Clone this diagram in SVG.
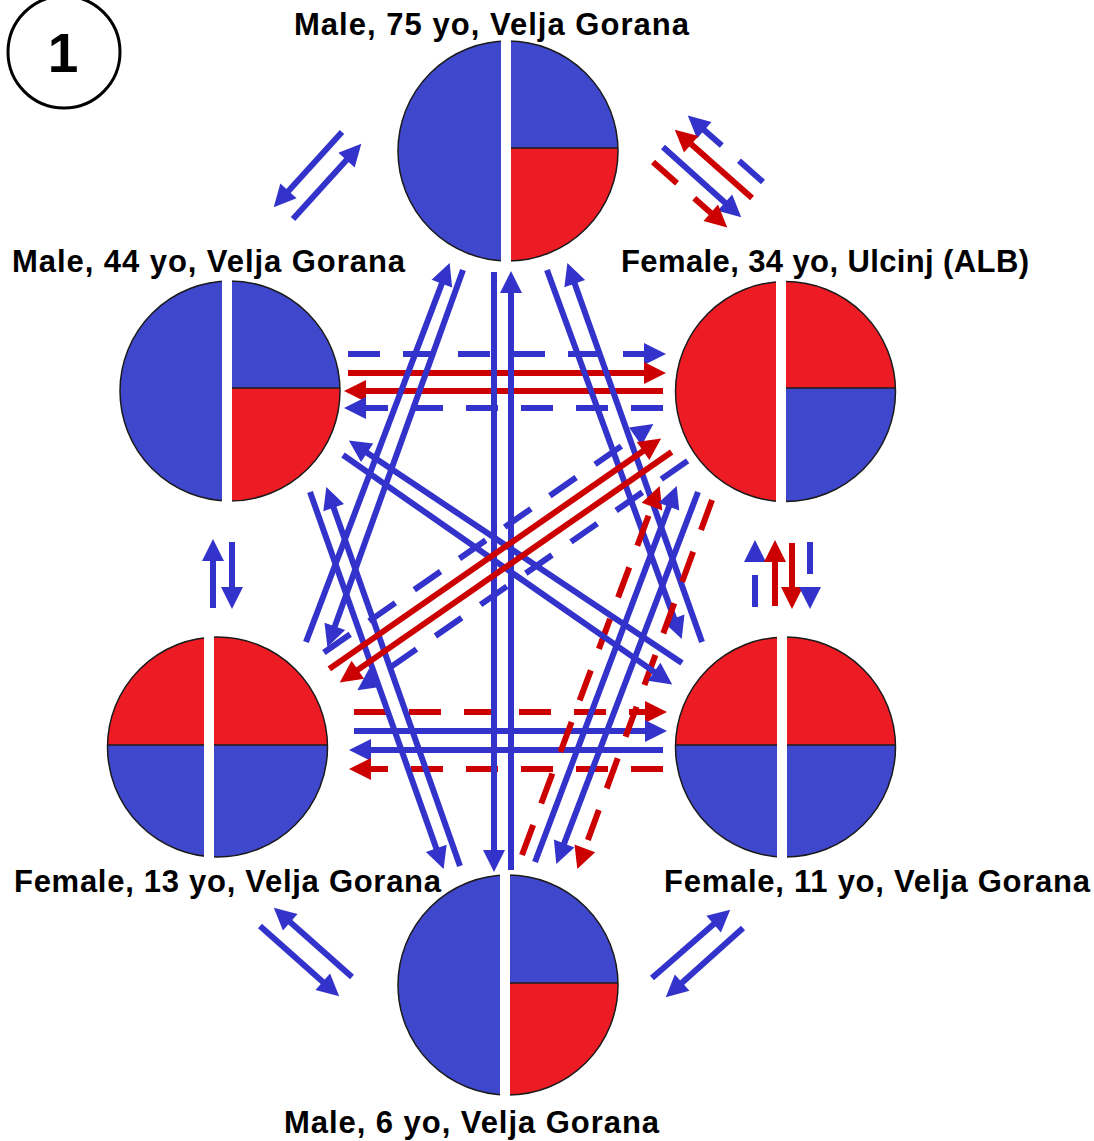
<svg xmlns="http://www.w3.org/2000/svg" width="1094" height="1141" viewBox="0 0 1094 1141">
<style>
.lbl{font-family:"Liberation Sans",Arial,sans-serif;font-weight:bold;font-size:31px;fill:#000;text-anchor:middle}
.pb{fill:#3F48CC}
.pr{fill:#ED1C24}
.ol{fill:none;stroke:#1a1a1a;stroke-width:1.5}
.dv{stroke:#1a1a1a;stroke-width:1.5}
.bar{fill:#fff}
.b{stroke:#3333CC;stroke-width:6;fill:none;marker-end:url(#ahb)}
.r{stroke:#CC0000;stroke-width:6;fill:none;marker-end:url(#ahr)}
.d{stroke-dasharray:32 23}
</style>
<defs>
<marker id="ahb" markerUnits="userSpaceOnUse" markerWidth="24" markerHeight="24" viewBox="0 -12 24 24" refX="1" refY="0" orient="auto" overflow="visible"><path d="M0,-11 L22,0 L0,11 z" fill="#3333CC"/></marker>
<marker id="ahr" markerUnits="userSpaceOnUse" markerWidth="24" markerHeight="24" viewBox="0 -12 24 24" refX="1" refY="0" orient="auto" overflow="visible"><path d="M0,-11 L22,0 L0,11 z" fill="#CC0000"/></marker>
<clipPath id="cT"><circle cx="508" cy="151" r="110"/></clipPath>
<clipPath id="cUL"><circle cx="230" cy="391" r="110"/></clipPath>
<clipPath id="cUR"><circle cx="785.5" cy="391.5" r="110"/></clipPath>
<clipPath id="cLL"><circle cx="217.5" cy="747" r="110"/></clipPath>
<clipPath id="cLR"><circle cx="785.5" cy="747" r="110"/></clipPath>
<clipPath id="cB"><circle cx="508" cy="985" r="110"/></clipPath>
</defs>
<rect width="1094" height="1141" fill="#fff"/>

<g id="badge">
<circle cx="64" cy="52" r="56" fill="none" stroke="#000" stroke-width="3"/>
<text x="63" y="72" style="font-family:'Liberation Sans',Arial,sans-serif;font-weight:bold;font-size:55px;text-anchor:middle">1</text>
</g>

<g id="node-t">
<circle class="pb" cx="508" cy="151" r="110"/>
<rect class="pr" clip-path="url(#cT)" x="506" y="148" width="115" height="115"/>
<line class="dv" x1="506" y1="148" x2="618" y2="148"/>
<circle class="ol" cx="508" cy="151" r="110"/>
<rect class="bar" x="501" y="39" width="10" height="225"/>
<text class="lbl" x="491.5" y="35" textLength="395">Male, 75 yo, Velja Gorana</text>
</g>

<g id="node-ul">
<circle class="pb" cx="230" cy="391" r="110"/>
<rect class="pr" clip-path="url(#cUL)" x="228" y="388" width="115" height="115"/>
<line class="dv" x1="228" y1="388" x2="340" y2="388"/>
<circle class="ol" cx="230" cy="391" r="110"/>
<rect class="bar" x="222" y="279" width="10" height="225"/>
<text class="lbl" x="208.5" y="272" textLength="393">Male, 44 yo, Velja Gorana</text>
</g>

<g id="node-ur">
<circle class="pr" cx="785.5" cy="391.5" r="110"/>
<rect class="pb" clip-path="url(#cUR)" x="782" y="388" width="115" height="115"/>
<line class="dv" x1="782" y1="388" x2="896" y2="388"/>
<circle class="ol" cx="785.5" cy="391.5" r="110"/>
<rect class="bar" x="776" y="279" width="10" height="225"/>
<text class="lbl" x="825" y="272" textLength="408">Female, 34 yo, Ulcinj (ALB)</text>
</g>

<g id="node-ll">
<circle class="pr" cx="217.5" cy="747" r="110"/>
<rect class="pb" clip-path="url(#cLL)" x="105" y="745" width="225" height="115"/>
<line class="dv" x1="107" y1="745" x2="328" y2="745"/>
<circle class="ol" cx="217.5" cy="747" r="110"/>
<rect class="bar" x="204" y="635" width="10" height="225"/>
<text class="lbl" x="227.5" y="892" textLength="427">Female, 13 yo, Velja Gorana</text>
</g>

<g id="node-lr">
<circle class="pr" cx="785.5" cy="747" r="110"/>
<rect class="pb" clip-path="url(#cLR)" x="673" y="745" width="225" height="115"/>
<line class="dv" x1="675" y1="745" x2="896" y2="745"/>
<circle class="ol" cx="785.5" cy="747" r="110"/>
<rect class="bar" x="777" y="635" width="10" height="225"/>
<text class="lbl" x="877" y="892" textLength="426">Female, 11 yo, Velja Gorana</text>
</g>

<g id="node-b">
<circle class="pb" cx="508" cy="985" r="110"/>
<rect class="pr" clip-path="url(#cB)" x="506" y="983" width="115" height="115"/>
<line class="dv" x1="506" y1="983" x2="618" y2="983"/>
<circle class="ol" cx="508" cy="985" r="110"/>
<rect class="bar" x="500" y="873" width="10" height="225"/>
<text class="lbl" x="471.5" y="1133" textLength="375">Male, 6 yo, Velja Gorana</text>
</g>

<g id="connectors">
<!-- T <-> UL -->
<line class="b" x1="342" y1="132" x2="287.8" y2="191.7"/>
<line class="b" x1="293" y1="219" x2="347.2" y2="159.3"/>
<!-- T <-> UR -->
<line class="b d" x1="763" y1="182" x2="703.5" y2="129.5"/>
<line class="r" x1="752" y1="198" x2="690.5" y2="143.6"/>
<line class="b" x1="663" y1="147" x2="725.6" y2="203.3"/>
<line class="r d" x1="653" y1="162" x2="711.5" y2="213.5"/>
<!-- UL <-> UR -->
<line class="b d" x1="348" y1="354" x2="645" y2="354"/>
<line class="r" x1="348" y1="373" x2="645" y2="373"/>
<line class="r" x1="663" y1="391" x2="365" y2="391"/>
<line class="b d" x1="663" y1="408" x2="365" y2="408"/>
<!-- UR <-> LR -->
<line class="b d" x1="755" y1="607" x2="755" y2="561"/>
<line class="r" x1="775" y1="606" x2="775" y2="561"/>
<line class="r" x1="792" y1="543" x2="792" y2="588"/>
<line class="b d" x1="810" y1="542" x2="810" y2="588"/>
<!-- UL <-> LL -->
<line class="b" x1="213" y1="608" x2="213" y2="560"/>
<line class="b" x1="232" y1="542" x2="232" y2="588"/>
<!-- LL <-> B -->
<line class="b" x1="352" y1="977" x2="289.5" y2="921.6"/>
<line class="b" x1="260" y1="926" x2="323.5" y2="982.4"/>
<!-- LR <-> B -->
<line class="b" x1="652" y1="978" x2="714.4" y2="923.5"/>
<line class="b" x1="743" y1="928" x2="681.4" y2="983.3"/>
<!-- LL <-> LR -->
<line class="r d" x1="354" y1="712" x2="646" y2="712"/>
<line class="b" x1="354" y1="731" x2="646" y2="731"/>
<line class="b" x1="663" y1="750" x2="370" y2="750"/>
<line class="r d" x1="663" y1="769" x2="370" y2="769"/>
<!-- T <-> B -->
<line class="b" x1="494" y1="272" x2="494" y2="851"/>
<line class="b" x1="511" y1="870" x2="511" y2="292"/>
<!-- T <-> LL -->
<line class="b" x1="306" y1="642" x2="442.2" y2="282.6"/>
<line class="b" x1="463" y1="270" x2="334.5" y2="627.3"/>
<!-- T <-> LR -->
<line class="b" x1="547" y1="270" x2="674.5" y2="619.3"/>
<line class="b" x1="702" y1="642" x2="574.4" y2="282.7"/>
<!-- UL <-> B -->
<line class="b" x1="310" y1="492" x2="436.6" y2="849.3"/>
<line class="b" x1="460" y1="866" x2="333.3" y2="506.7"/>
<!-- UR <-> B -->
<line class="r d" x1="522" y1="855" x2="652.3" y2="505.6"/>
<line class="b" x1="535" y1="862" x2="669.3" y2="505.6"/>
<line class="b" x1="698" y1="492" x2="563.8" y2="844.4"/>
<line class="r d" x1="712" y1="500" x2="584.5" y2="849.3"/>
<!-- UL <-> LR -->
<line class="b" x1="682" y1="663" x2="366.3" y2="452.2"/>
<line class="b" x1="343" y1="455" x2="655" y2="672.4"/>
<!-- UR <-> LL -->
<line class="b d" x1="323.9" y1="652.5" x2="636.1" y2="435.9"/>
<line class="r" x1="329.3" y1="668.9" x2="643.9" y2="450.5"/>
<line class="r" x1="671.6" y1="452" x2="357" y2="670.4"/>
<line class="b d" x1="687.6" y1="460.9" x2="374.6" y2="678.2"/>
</g>
</svg>
